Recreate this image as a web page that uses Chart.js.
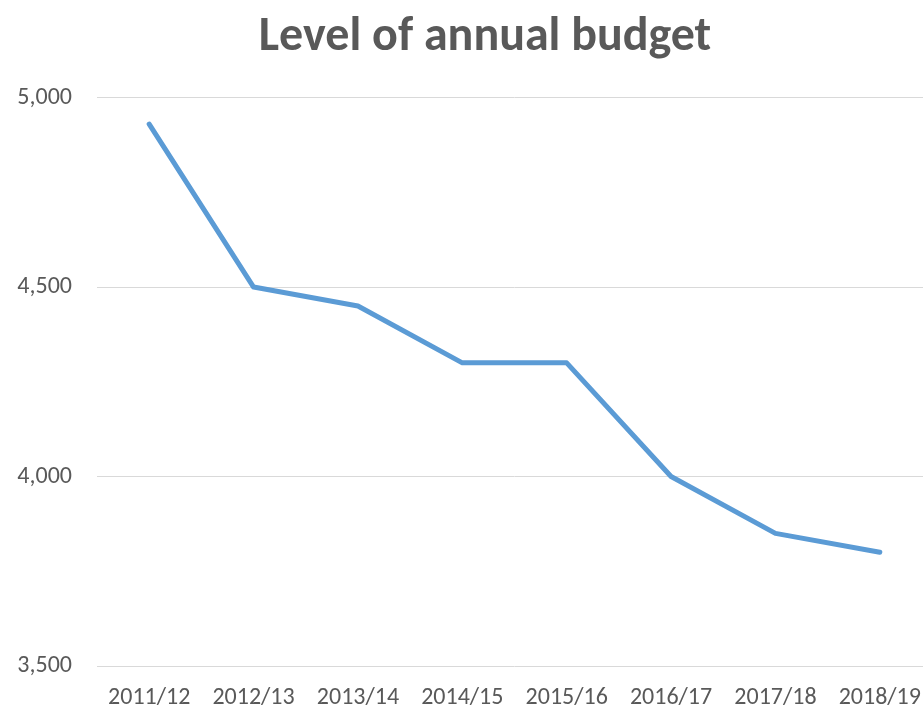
<!DOCTYPE html>
<html>
<head>
<meta charset="utf-8">
<script src="https://cdn.jsdelivr.net/npm/chart.js@4/dist/chart.umd.min.js"></script>
<style>
    body { margin: 0; overflow: hidden; background: #ffffff; }
    #wrap { width: 923px; height: 707px; overflow: hidden; }
</style>
</head>
<body>
<div id="wrap">
    <canvas id="budget-chart" width="970" height="707"></canvas>
</div>
<script>
// datos del grafico
const years = ['2011/12', '2012/13', '2013/14', '2014/15', '2015/16', '2016/17', '2017/18', '2018/19'];
const budget = [4930, 4500, 4450, 4300, 4300, 4000, 3850, 3800];
const yTicks = [3500, 4000, 4500, 5000];

const textGrey = '#595959';
const fontFamily = "Carlito, 'Open Sans', 'Noto Sans', sans-serif";

const ctx = document.getElementById('budget-chart');

new Chart(ctx, {
    type: 'line',

    data: {
        labels: years,
        datasets: [{
            label: 'Budget',
            data: budget,
            borderColor: '#5B9BD5',
            backgroundColor: '#5B9BD5',
            borderWidth: 5,
            borderJoinStyle: 'round',
            borderCapStyle: 'round',
            pointRadius: 0,
            tension: 0,
            fill: false
        }]
    },

    options: {
        responsive: false,
        animation: false,

        layout: {
            padding: 0
        },

        plugins: {
            legend: { display: false },
            tooltip: { enabled: false },
            title: {
                display: true,
                text: 'Level of annual budget',
                color: textGrey,
                font: { family: fontFamily, size: 48, weight: 'bold' },
                padding: { top: 9, bottom: 31 }
            }
        },

        scales: {
            x: {
                offset: true,
                grid: { display: false },
                border: { display: false },
                afterFit: function (scale) {
                    scale.height = 41;
                },
                ticks: {
                    color: textGrey,
                    font: { family: fontFamily, size: 24 },
                    padding: 10,
                    maxRotation: 0,
                    autoSkip: false
                }
            },
            y: {
                min: yTicks[0],
                max: yTicks[yTicks.length - 1],
                afterBuildTicks: function (scale) {
                    scale.ticks = yTicks.map(v => ({ value: v }));
                },
                afterFit: function (scale) {
                    scale.width = 97;
                },
                grid: {
                    color: '#d9d9d9',
                    lineWidth: 1,
                    drawTicks: false
                },
                border: { display: false },
                ticks: {
                    color: textGrey,
                    font: { family: fontFamily, size: 24 },
                    padding: 25,
                    callback: function (value) {
                        return value.toLocaleString('en-US');
                    }
                }
            },
            // espacio vacio a la derecha (el grafico original esta recortado)
            spacer: {
                position: 'right',
                grid: { display: false },
                border: { display: false },
                ticks: { display: false },
                afterFit: function (scale) {
                    scale.width = 38;
                }
            }
        }
    }
});
</script>
</body>
</html>
